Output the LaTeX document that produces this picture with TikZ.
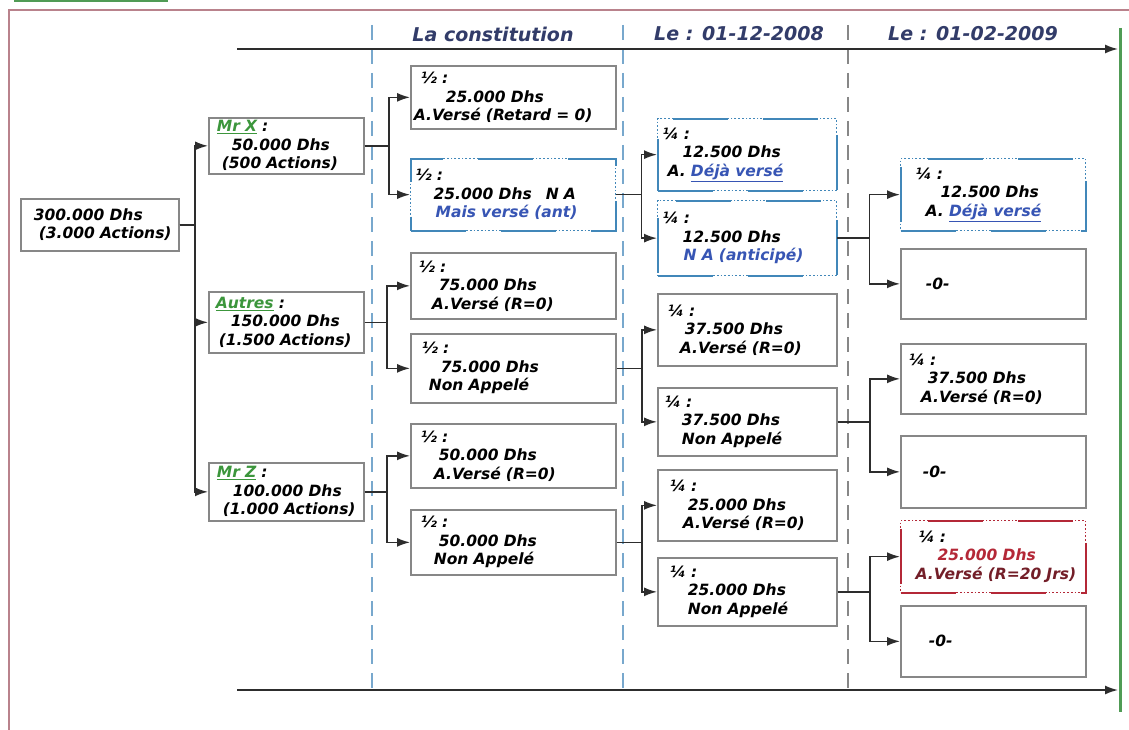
\documentclass[tikz,border=0pt]{standalone}
\usepackage{fontspec}
\setmainfont{DejaVu Sans}[ItalicFont={DejaVu Sans Oblique},BoldFont={DejaVu Sans Bold},BoldItalicFont={DejaVu Sans Bold Oblique}]
\usepackage{tikz}
\usetikzlibrary{positioning,arrows.meta}
\definecolor{framepink}{RGB}{185,130,140}
\definecolor{softgreen}{RGB}{80,155,85}
\definecolor{namegreen}{RGB}{60,150,60}
\definecolor{lineblue}{RGB}{120,168,205}
\definecolor{boxblue}{RGB}{65,135,185}
\definecolor{textblue}{RGB}{55,85,180}
\definecolor{softred}{RGB}{180,40,55}
\definecolor{darkred}{RGB}{115,30,40}
\definecolor{headnavy}{RGB}{50,60,105}
\definecolor{boxgray}{RGB}{135,135,135}
\definecolor{linkgray}{RGB}{45,45,45}
\newcommand{\nom}[1]{\textcolor{namegreen}{\underline{#1}}}
\newcommand{\bleu}[1]{\textcolor{textblue}{#1}}

\tikzset{
  box/.style={draw=boxgray, line width=1.7pt, anchor=north west, align=left,
    inner xsep=3pt, inner ysep=0pt, font=\fontsize{15.5}{18.5}\selectfont\bfseries\itshape},
  colA/.style={box, text width=149pt},
  colB/.style={box, text width=199pt},
  colC/.style={box, text width=173pt},
  colD/.style={box, text width=179pt},
  bluebox/.style={draw=boxblue, dotted, line width=1.3pt,
    postaction={draw=boxblue, line width=1.9pt, dash pattern=on 55pt off 35pt}},
  redbox/.style={draw=softred, dotted, line width=1.3pt,
    postaction={draw=softred, line width=1.9pt, dash pattern=on 55pt off 35pt}},
  link/.style={draw=linkgray, line width=1.6pt, -{Latex[length=13pt,width=9pt]}},
  divider/.style={lineblue, line width=1.6pt, dash pattern=on 15pt off 9pt},
  header/.style={headnavy, font=\fontsize{19}{22}\selectfont\bfseries\itshape}
}

\begin{document}
\begin{tikzpicture}[x=1pt,y=-1pt]
\path[use as bounding box, fill=white] (0,0) rectangle (1129,730);

% cadre
\draw[framepink, line width=2.8pt] (9,730) -- (9,10) -- (1129,10);
\draw[softgreen, line width=2.5pt] (14,1) -- (168,1);
\draw[softgreen, line width=3pt] (1120,28) -- (1120,712);

% colonnes
\draw[divider] (372,25) -- (372,690);
\draw[divider] (623,25) -- (623,690);
\draw[divider, boxgray] (848,25) -- (848,690);
\node[header] (h1) at (493,34) {La constitution};
\node[header] (h2) at (739,34) {Le : 01-12-2008};
\node[header] (h3) at (973,34) {Le : 01-02-2009};

% axes du temps
\coordinate (tl) at (237,49);
\coordinate (tr) at (1118,49);
\coordinate (bl) at (237,690);
\coordinate (br) at (1118,690);
\draw[link] (tl) -- (tr);
\draw[link] (bl) -- (br);

% capital
\node[box, text width=152pt, minimum height=52pt] (root) at (20,198)
  {\hspace*{10pt}300.000 Dhs\\\hspace*{15pt}(3.000 Actions)};

% actionnaires
\node[colA, minimum height=56pt] (mrx) at (208,117)
  {\hspace*{5pt}\nom{Mr X} :\\\hspace*{20pt}50.000 Dhs\\\hspace*{10pt}(500 Actions)};
\node[colA, minimum height=61pt] (autres) at (208,291)
  {\hspace*{4pt}\nom{Autres} :\\\hspace*{19pt}150.000 Dhs\\\hspace*{7pt}(1.500 Actions)};
\node[colA, minimum height=58pt] (mrz) at (208,462)
  {\hspace*{5pt}\nom{Mr Z} :\\\hspace*{21pt}100.000 Dhs\\\hspace*{11pt}(1.000 Actions)};

% la constitution
\node[colB, minimum height=63pt] (b1) at (410,65)
  {\hspace*{7pt}½ :\\\hspace*{32pt}25.000 Dhs\\A.Versé (Retard = 0)};
\node[colB, bluebox, minimum height=72pt] (b2) at (410,158)
  {\hspace*{2pt}½ :\\\hspace*{20pt}25.000 Dhs\hspace{14pt}N A\\\hspace*{22pt}\bleu{Mais versé (ant)}};
\node[colB, minimum height=66pt] (b3) at (410,252)
  {\hspace*{5pt}½ :\\\hspace*{25pt}75.000 Dhs\\\hspace*{18pt}A.Versé (R=0)};
\node[colB, minimum height=69pt] (b4) at (410,333)
  {\hspace*{8pt}½ :\\\hspace*{27pt}75.000 Dhs\\\hspace*{15pt}Non Appelé};
\node[colB, minimum height=64pt] (b5) at (410,423)
  {\hspace*{7pt}½ :\\\hspace*{25pt}50.000 Dhs\\\hspace*{20pt}A.Versé (R=0)};
\node[colB, minimum height=65pt] (b6) at (410,509)
  {\hspace*{7pt}½ :\\\hspace*{25pt}50.000 Dhs\\\hspace*{20pt}Non Appelé};

% le 01-12-2008
\node[colC, bluebox, minimum height=72pt] (c1) at (657,118)
  {\hspace*{2pt}¼ :\\\hspace*{22pt}12.500 Dhs\\\hspace*{7pt}A. \bleu{\underline{Déjà versé}}};
\node[colC, bluebox, minimum height=75pt] (c2) at (657,200)
  {\hspace*{2pt}¼ :\\\hspace*{22pt}12.500 Dhs\\\hspace*{23pt}\bleu{N A (anticipé)}};
\node[colC, minimum height=72pt] (c3) at (657,293)
  {\hspace*{7pt}¼ :\\\hspace*{24pt}37.500 Dhs\\\hspace*{19pt}A.Versé (R=0)};
\node[colC, minimum height=68pt] (c4) at (657,387)
  {\hspace*{4pt}¼ :\\\hspace*{21pt}37.500 Dhs\\\hspace*{21pt}Non Appelé};
\node[colC, minimum height=71pt] (c5) at (657,469)
  {\hspace*{9pt}¼ :\\\hspace*{27pt}25.000 Dhs\\\hspace*{22pt}A.Versé (R=0)};
\node[colC, minimum height=68pt] (c6) at (657,557)
  {\hspace*{9pt}¼ :\\\hspace*{27pt}25.000 Dhs\\\hspace*{27pt}Non Appelé};

% le 01-02-2009
\node[colD, bluebox, minimum height=72pt] (d1) at (900,158)
  {\hspace*{12pt}¼ :\\\hspace*{37pt}12.500 Dhs\\\hspace*{22pt}A. \bleu{\underline{Déjà versé}}};
\node[colD, minimum height=70pt] (d2) at (900,248) {\hspace*{22pt}-0-};
\node[colD, minimum height=70pt] (d3) at (900,343)
  {\hspace*{5pt}¼ :\\\hspace*{24pt}37.500 Dhs\\\hspace*{17pt}A.Versé (R=0)};
\node[colD, minimum height=72pt] (d4) at (900,435) {\hspace*{19pt}-0-};
\node[colD, redbox, minimum height=72pt] (d5) at (900,520)
  {\hspace*{15pt}¼ :\\\hspace*{34pt}\textcolor{softred}{25.000 Dhs}\\\hspace*{12pt}\textcolor{darkred}{A.Versé (R=20 Jrs)}};
\node[colD, minimum height=71pt] (d6) at (900,605) {\hspace*{25pt}-0-};

% liaisons
\foreach \c in {mrx,autres,mrz}
  \draw[link] (root.east) -- ++(15,0) |- (\c.west);
\foreach \c in {b1,b2} \draw[link] (mrx.east) -- ++(24,0) |- (\c.west);
\foreach \c in {b3,b4} \draw[link] (autres.east) -- ++(22,0) |- (\c.west);
\foreach \c in {b5,b6} \draw[link] (mrz.east) -- ++(22,0) |- (\c.west);
\foreach \c in {c1,c2} \draw[link] (b2.east) -- ++(25,0) |- (\c.west);
\foreach \c in {c3,c4} \draw[link] (b4.east) -- ++(25,0) |- (\c.west);
\foreach \c in {c5,c6} \draw[link] (b6.east) -- ++(25,0) |- (\c.west);
\foreach \c in {d1,d2} \draw[link] (c2.east) -- ++(32,0) |- (\c.west);
\foreach \c in {d3,d4} \draw[link] (c4.east) -- ++(32,0) |- (\c.west);
\foreach \c in {d5,d6} \draw[link] (c6.east) -- ++(32,0) |- (\c.west);
\end{tikzpicture}
\end{document}
